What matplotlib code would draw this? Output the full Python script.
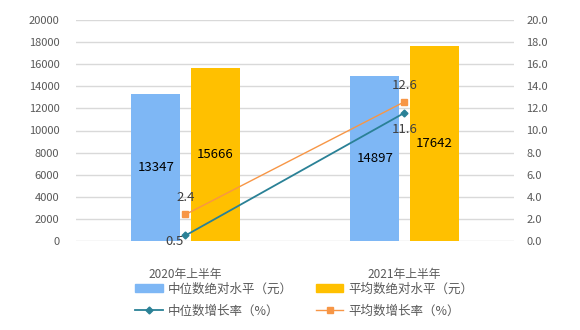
import numpy as np
import matplotlib.pyplot as plt
from matplotlib.lines import Line2D
from matplotlib.patches import Patch

plt.rcParams['font.family'] = ['Noto Sans CJK SC', 'DejaVu Sans']

periods = ['2020年上半年', '2021年上半年']
median_level = [13347, 14897]
mean_level = [15666, 17642]
median_growth = [0.5, 11.6]
mean_growth = [2.4, 12.6]

blue = '#7EB7F5'
gold = '#FFC000'
teal = '#2A8196'
orange = '#F79646'
grey_txt = '#595959'

fig = plt.figure(figsize=(5.8, 3.3), dpi=100)
ax = fig.add_axes([76/580, 1-241/330, 438/580, 221/330])
ax2 = ax.twinx()

x = np.arange(len(periods))
w = 0.224
gap = 0.046
b1 = ax.bar(x - (w + gap)/2, median_level, w, color=blue, zorder=2)
b2 = ax.bar(x + (w + gap)/2, mean_level, w, color=gold, zorder=2)

for bars, vals in ((b1, median_level), (b2, mean_level)):
    for r, v in zip(bars, vals):
        ax.text(r.get_x() + r.get_width()/2, v/2, str(v), ha='center', va='center',
                fontsize=9.5, color='black', zorder=5)

ax.set_ylim(0, 20000)
ax.set_yticks(np.arange(0, 20001, 2000))
ax.set_xlim(-0.5, 1.5)
ax.set_xticks([])
ax.grid(axis='y', color='#D9D9D9', linewidth=1)
ax.set_axisbelow(True)
for s in ax.spines.values():
    s.set_visible(False)
for s in ax2.spines.values():
    s.set_visible(False)
ax.tick_params(axis='y', length=0, labelsize=8, labelcolor=grey_txt, pad=12)

ax2.plot(x, median_growth, color=teal, lw=1.3, marker='D', ms=3.5, zorder=4)
ax2.plot(x, mean_growth, color=orange, lw=1, marker='s', ms=4.5, zorder=4)
ax2.set_ylim(0, 20)
ax2.set_yticks(np.arange(0, 20.1, 2))
ax2.set_yticklabels([f'{v:.1f}' for v in np.arange(0, 20.1, 2)])
ax2.tick_params(axis='y', length=0, labelsize=8, labelcolor=grey_txt, pad=9)

# growth labels: median below the point, mean above
median_offsets = [(-8, -4), (0, -12)]
for xi, v, off in zip(x, median_growth, median_offsets):
    ax2.annotate(f'{v}', (xi, v), xytext=off, textcoords='offset points',
                 ha='center', va='center', fontsize=9.5, color='#404040', zorder=6)
for xi, v in zip(x, mean_growth):
    ax2.annotate(f'{v}', (xi, v), xytext=(0, 12), textcoords='offset points',
                 ha='center', va='center', fontsize=9.5, color='#404040')

for xi, p in zip(x, periods):
    ax.text(xi, -0.15, p, transform=ax.get_xaxis_transform(), ha='center', va='center',
            fontsize=8.5, color=grey_txt)

# legend fills column by column: bars on the first row, lines on the second
handles = [Patch(color=blue),
           Line2D([], [], color=teal, marker='D', ms=3.5, lw=1.3),
           Patch(color=gold),
           Line2D([], [], color=orange, marker='s', ms=4.5, lw=1)]
labels = ['中位数绝对水平（元）', '中位数增长率（%）', '平均数绝对水平（元）', '平均数增长率（%）']
leg = fig.legend(handles, labels, ncol=2, loc='center left', bbox_to_anchor=(124/580, 1-300/330),
                 frameon=False, fontsize=9, handlelength=2.2, columnspacing=1.85,
                 handletextpad=0.4, labelspacing=0.75)
for t in leg.get_texts():
    t.set_color(grey_txt)

fig.savefig('out.png', dpi=100)
